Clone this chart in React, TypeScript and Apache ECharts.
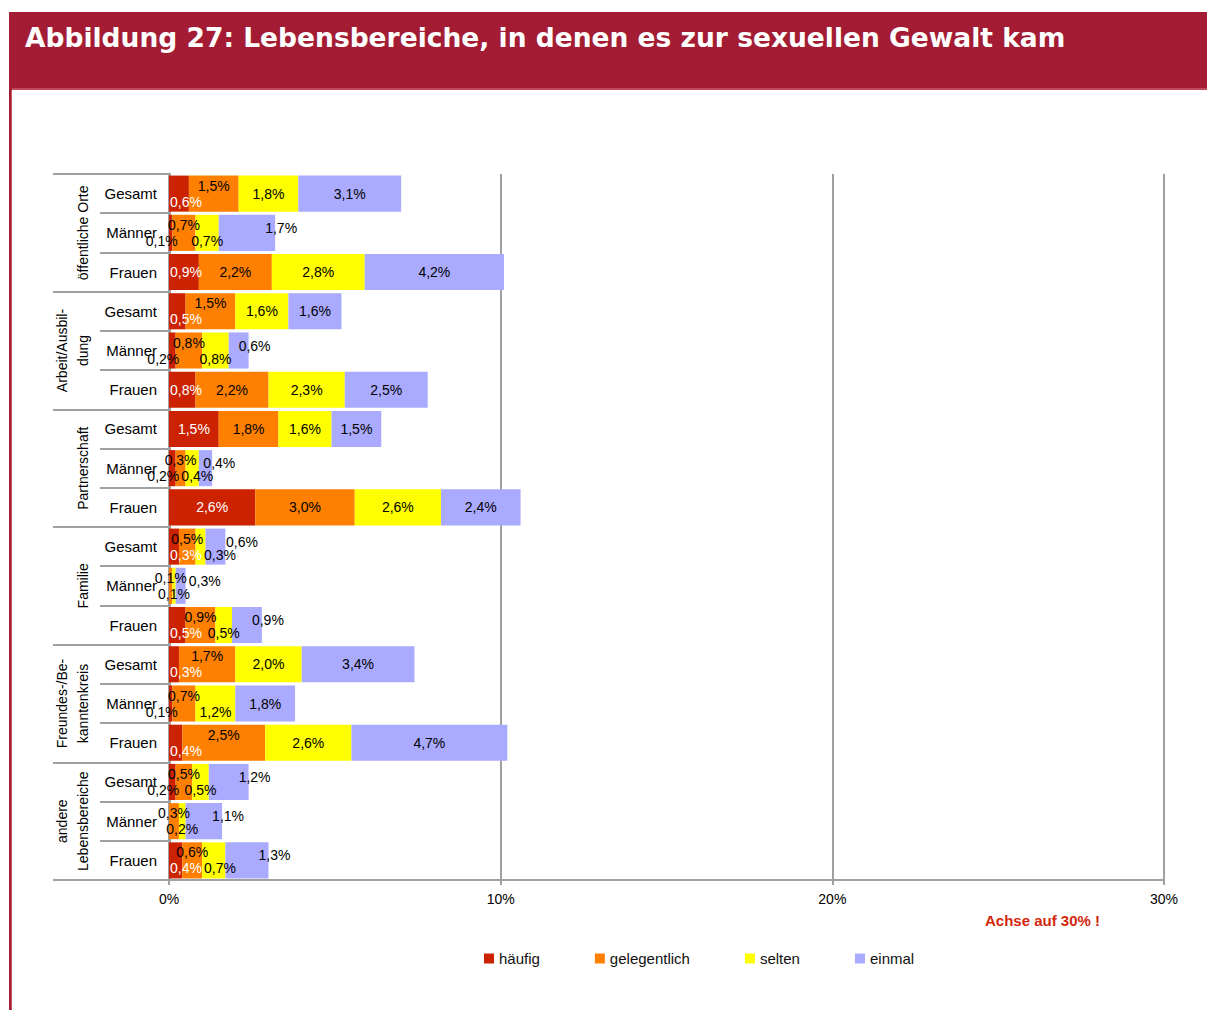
import React, { useEffect, useRef } from "react";
import * as echarts from "echarts";

const rowLabels = [
  "Gesamt", "Männer", "Frauen",
  "Gesamt", "Männer", "Frauen",
  "Gesamt", "Männer", "Frauen",
  "Gesamt", "Männer", "Frauen",
  "Gesamt", "Männer", "Frauen",
  "Gesamt", "Männer", "Frauen",
];
const groupLabels = [
  "öffentliche Orte",
  "Arbeit/Ausbil-\ndung",
  "Partnerschaft",
  "Familie",
  "Freundes-/Be-\nkanntenkreis",
  "andere\nLebensbereiche",
];
const seriesNames = ["häufig", "gelegentlich", "selten", "einmal"];
const haeufig = [0.6, 0.1, 0.9, 0.5, 0.2, 0.8, 1.5, 0.2, 2.6, 0.3, 0, 0.5, 0.3, 0.1, 0.4, 0.2, 0, 0.4];
const gelegentlich = [1.5, 0.7, 2.2, 1.5, 0.8, 2.2, 1.8, 0.3, 3.0, 0.5, 0.1, 0.9, 1.7, 0.7, 2.5, 0.5, 0.3, 0.6];
const selten = [1.8, 0.7, 2.8, 1.6, 0.8, 2.3, 1.6, 0.4, 2.6, 0.3, 0.1, 0.5, 2.0, 1.2, 2.6, 0.5, 0.2, 0.7];
const einmal = [3.1, 1.7, 4.2, 1.6, 0.6, 2.5, 1.5, 0.4, 2.4, 0.6, 0.3, 0.9, 3.4, 1.8, 4.7, 1.2, 1.1, 1.3];
const xTicks = [0, 10, 20, 30];

const colors = ["#CC2200", "#FF8000", "#FFFF00", "#AAAAFF"];
const GRAY = "#A0A0A0";
const FONT = "'Liberation Sans', Arial, sans-serif";

const W = 1207;
const H = 1010;
const GRID_LEFT = 169;
const GRID_RIGHT = 43;
const PPU = (W - GRID_LEFT - GRID_RIGHT) / 30;
const LABEL_HALF = 16;
const SHIFT = 8;

function fmt(v: number) {
  return v.toFixed(1).replace(".", ",") + "%";
}

// Label placement per row, avoiding overlaps (alternating up/down + horizontal push)
function rowLabelStyles(vals: number[]) {
  const res = vals.map(() => ({ dx: 0, dy: 0, key: 0, outer: false }));
  const centers: number[] = [];
  let cum = 0;
  vals.forEach((v) => {
    centers.push(cum + v / 2);
    cum += v;
  });
  const parity = (i: number) => (i % 2 === 0 ? 1 : -1);
  const shown = vals.map((v, i) => i).filter((i) => vals[i] > 0);
  let lastConflict = false;
  for (let k = 1; k < shown.length; k++) {
    const i = shown[k];
    const j = shown[k - 1];
    const conflict = centers[i] - centers[j] < 1.5;
    if (conflict) {
      if (res[j].key === 0) res[j].key = parity(j);
      res[i].key = parity(i);
    }
    if (k === shown.length - 1) lastConflict = conflict;
  }
  res.forEach((r) => (r.dy = r.key * SHIFT));
  // first segment
  if (vals[0] > 0 && vals[0] < 0.3) {
    res[0].dx = -9;
  } else if (vals[0] > 0) {
    const segHalf = (vals[0] * PPU) / 2;
    if (segHalf < LABEL_HALF + 1) res[0].dx = LABEL_HALF + 1 - segHalf;
  }
  // crowded last segment: label just beyond bar end
  const last = vals.length - 1;
  if (vals[last] > 0 && lastConflict) {
    res[last].dx = (vals[last] * PPU) / 2 + 6;
    res[last].key = -1;
    res[last].dy = -5;
    res[last].outer = true;
  }
  // horizontal push to avoid overlaps
  const lastRight: Record<string, number> = { "-1": -1e9, "0": -1e9, "1": -1e9 };
  shown.forEach((i) => {
    const c = centers[i] * PPU + res[i].dx;
    const key = res[i].key;
    let limit =
      key === 0
        ? Math.max(lastRight["-1"], lastRight["0"], lastRight["1"])
        : Math.max(lastRight[String(key)], lastRight["0"]);
    if (res[i].outer) limit = Math.max(limit, lastRight["1"] - 12);
    const left = c - LABEL_HALF;
    if (left < limit + 2) res[i].dx += limit + 2 - left;
    lastRight[String(key)] = centers[i] * PPU + res[i].dx + LABEL_HALF;
  });
  return res;
}

export default function App() {
  const ref = useRef<HTMLDivElement>(null);

  useEffect(() => {
    document.body.style.margin = "0";
    const chart = echarts.init(ref.current!, null, { renderer: "svg" });
    const seriesData = [haeufig, gelegentlich, selten, einmal];
    const styles = rowLabels.map((_, r) => rowLabelStyles(seriesData.map((s) => s[r])));

    const series = seriesData.map((arr, si) => ({
      name: seriesNames[si],
      type: "bar",
      stack: "total",
      barCategoryGap: "8%",
      itemStyle: { color: colors[si] },
      data: arr.map((v, r) => {
        const st = styles[r][si];
        const white = si === 0 && v >= 0.3;
        return {
          value: v,
          label: {
            show: v > 0,
            position: "inside",
            offset: [st.dx, st.dy],
            color: white ? "#FFFFFF" : "#000000",
            fontSize: 14,
            fontFamily: FONT,
            formatter: () => fmt(v),
          },
        };
      }),
    }));

    chart.setOption({
      animation: false,
      backgroundColor: "#FFFFFF",
      grid: {
        left: GRID_LEFT,
        right: GRID_RIGHT,
        top: 174,
        bottom: 130,
        containLabel: false,
        outerBoundsMode: "none",
      },
      legend: {
        data: seriesNames,
        left: 484,
        top: 951,
        padding: 0,
        itemWidth: 10,
        itemHeight: 10,
        itemGap: 55,
        icon: "rect",
        textStyle: { fontSize: 15, color: "#111", fontFamily: FONT },
      },
      xAxis: {
        type: "value",
        min: 0,
        max: 30,
        interval: 10,
        axisLine: { show: true, lineStyle: { color: GRAY, width: 2 } },
        axisTick: { show: true, length: 5, lineStyle: { color: GRAY, width: 2 } },
        splitLine: { show: true, lineStyle: { color: GRAY, width: 2 } },
        axisLabel: {
          margin: 12,
          fontSize: 14,
          color: "#000",
          fontFamily: FONT,
          formatter: (v: number) => (xTicks.includes(v) ? v + "%" : ""),
        },
      },
      yAxis: [
        {
          type: "category",
          data: rowLabels,
          inverse: true,
          position: "left",
          axisLine: { show: true, lineStyle: { color: GRAY, width: 3 } },
          axisTick: { show: true, length: 69, interval: 0, lineStyle: { color: GRAY, width: 2 } },
          axisLabel: { interval: 0, margin: 12, fontSize: 15, color: "#000", fontFamily: FONT },
        },
        {
          type: "category",
          data: groupLabels,
          inverse: true,
          position: "left",
          axisLine: { show: false },
          axisTick: { show: true, length: 116, interval: 0, lineStyle: { color: GRAY, width: 2 } },
          axisLabel: {
            interval: 0,
            rotate: 90,
            margin: 76,
            fontSize: 14,
            lineHeight: 21,
            color: "#000",
            fontFamily: FONT,
          },
        },
      ],
      graphic: [
        { type: "rect", shape: { x: 9, y: 12, width: W - 9, height: 76 }, style: { fill: "#A31C33" }, silent: true },
        { type: "rect", shape: { x: 9, y: 88, width: W - 9, height: 2 }, style: { fill: "#BE4A5C" }, silent: true },
        { type: "rect", shape: { x: 9, y: 88, width: 3, height: H - 88 }, style: { fill: "#A31C33" }, silent: true },
        { type: "rect", shape: { x: 11, y: 90, width: 1, height: H - 90 }, style: { fill: "#C8566A" }, silent: true },
        {
          type: "text",
          style: {
            x: 25,
            y: 37,
            text: "Abbildung 27: Lebensbereiche, in denen es zur sexuellen Gewalt kam",
            fill: "#FFFFFF",
            font: "bold 26.5px 'DejaVu Sans', Verdana, sans-serif",
            verticalAlign: "middle",
          },
          silent: true,
        },
        {
          type: "text",
          style: {
            x: 1100,
            y: 920,
            text: "Achse auf 30% !",
            fill: "#D2280C",
            font: "bold 15px 'Liberation Sans', Arial, sans-serif",
            align: "right",
            verticalAlign: "middle",
          },
          silent: true,
        },
      ],
      series,
    });
    return () => chart.dispose();
  }, []);

  return <div ref={ref} style={{ width: W, height: H }} />;
}
